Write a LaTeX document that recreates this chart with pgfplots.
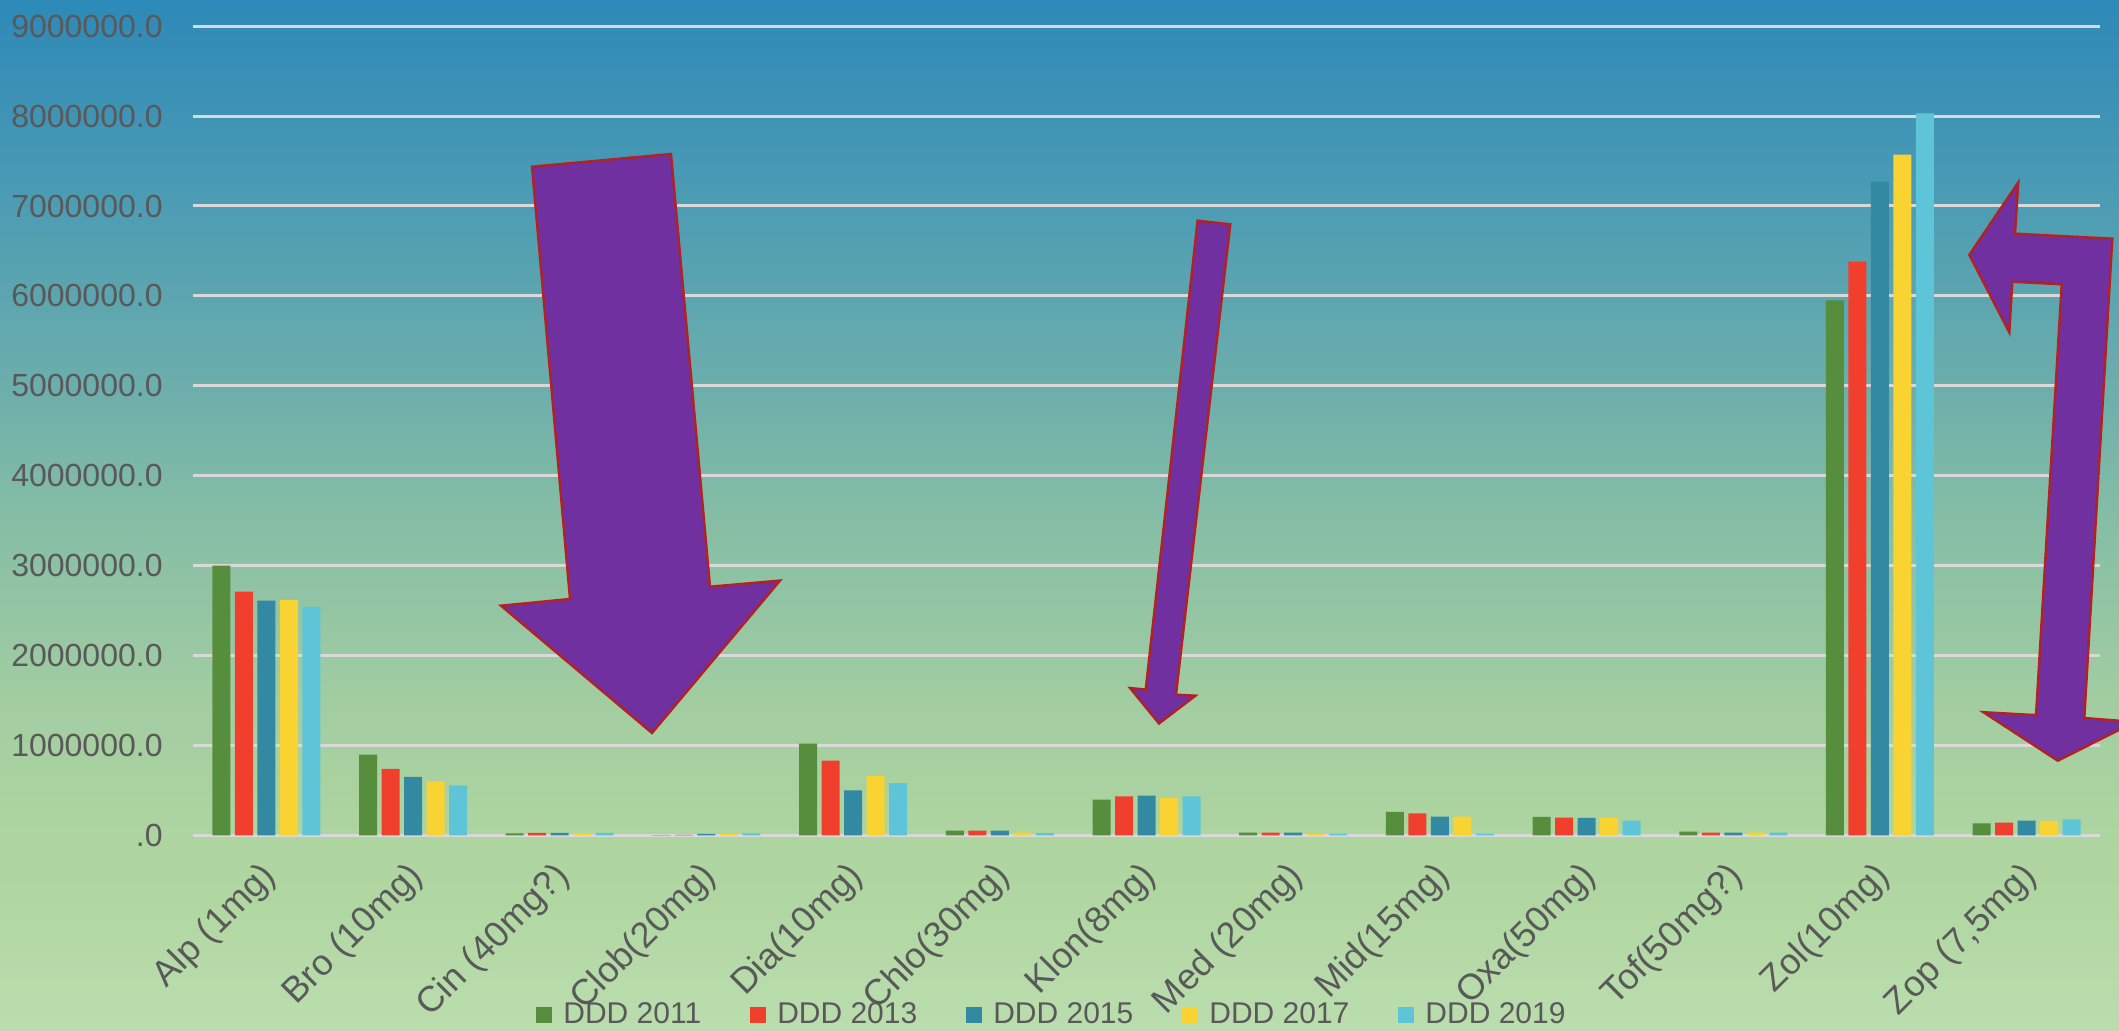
\documentclass[border=0pt]{standalone}
\usepackage{pgfplots}
\pgfplotsset{compat=1.18}
\usepackage{fontspec}
\setmainfont{Liberation Sans}

\definecolor{cA}{RGB}{86,142,61}
\definecolor{cB}{RGB}{240,64,45}
\definecolor{cC}{RGB}{51,136,162}
\definecolor{cD}{RGB}{248,211,49}
\definecolor{cE}{RGB}{94,196,216}
\definecolor{labc}{RGB}{89,89,89}
\definecolor{gridc}{RGB}{217,217,217}
\definecolor{arrowfill}{RGB}{112,48,160}
\definecolor{arrowline}{RGB}{178,34,34}

\definecolor{bg0}{RGB}{187,221,174}
\definecolor{bg1}{RGB}{176,215,162}
\definecolor{bg2}{RGB}{174,213,160}
\definecolor{bg3}{RGB}{162,205,161}
\definecolor{bg4}{RGB}{130,188,166}
\definecolor{bg5}{RGB}{108,174,172}
\definecolor{bg6}{RGB}{76,156,180}
\definecolor{bg7}{RGB}{45,137,184}

\pgfdeclareverticalshading{bgshade}{1059.5pt}{%
  color(0pt)=(bg0); color(65pt)=(bg1); color(98pt)=(bg2);
  color(165pt)=(bg3); color(265pt)=(bg4); color(322pt)=(bg5);
  color(415pt)=(bg6); color(515.5pt)=(bg7)}

\pgfplotsset{sqlegend/.style={legend image code/.code={\fill[##1] (0pt,-4pt) rectangle (8pt,4pt);}}}

\begin{document}
\begin{tikzpicture}
\node[inner sep=0pt, outer sep=0pt, anchor=south west] at (0,0) {\pgfuseshading{bgshade}};

\begin{axis}[
  at={(96.5pt,97.85pt)}, anchor=south west,
  width=953.5pt, height=404.55pt, scale only axis,
  xmin=-0.5, xmax=12.5, ymin=0, ymax=9000000,
  clip=false,
  axis line style={draw=none},
  major tick length=0pt,
  tick style={draw=none},
  scaled y ticks=false,
  ytick={0,1000000,2000000,3000000,4000000,5000000,6000000,7000000,8000000,9000000},
  yticklabels={.0,1000000.0,2000000.0,3000000.0,4000000.0,5000000.0,6000000.0,7000000.0,8000000.0,9000000.0},
  ymajorgrids,
  grid style={color=gridc, line width=1.5pt},
  xtick={0,1,2,3,4,5,6,7,8,9,10,11,12},
  xticklabels={{Alp (1mg)},{Bro (10mg)},{Cin (40mg?)},{Clob(20mg)},{Dia(10mg)},{Chlo(30mg)},{Klon(8mg)},{Med (20mg)},{Mid(15mg)},{Oxa(50mg)},{Tof(50mg?)},{Zol(10mg)},{Zop (7,5mg)}},
  yticklabel style={anchor=east, inner sep=0pt, xshift=-15pt, font=\fontsize{16}{16}\selectfont, text=labc},
  xticklabel style={xshift=-3.8pt, yshift=-11.8pt, rotate=45, anchor=north east, inner sep=0pt, font=\fontsize{18}{18}\selectfont, text=labc},
  ybar, bar width=9pt,
  sqlegend,
  legend columns=5,
  legend style={at={(0.4499,-0.2221)}, anchor=center, draw=none, fill=none,
    font=\fontsize{15}{15}\selectfont, text=labc, inner sep=0pt,
    nodes={inner sep=0pt},
    /tikz/every odd column/.append style={column sep=5.5pt},
    /tikz/every even column/.append style={column sep=24.5pt}},
]
\addplot[fill=cA, draw=none, bar shift=-22.5pt] coordinates {
 (0,3000000) (1,898000) (2,22000) (3,2000) (4,1020000) (5,53000) (6,397000) (7,30000) (8,260000) (9,204000) (10,40000) (11,5950000) (12,133000)};
\addplot[fill=cB, draw=none, bar shift=-11.25pt] coordinates {
 (0,2710000) (1,740000) (2,26000) (3,5000) (4,830000) (5,53000) (6,434000) (7,30000) (8,245000) (9,197000) (10,30000) (11,6380000) (12,141000)};
\addplot[fill=cC, draw=none, bar shift=0pt] coordinates {
 (0,2610000) (1,650000) (2,26000) (3,15000) (4,500000) (5,53000) (6,440000) (7,30000) (8,208000) (9,193000) (10,30000) (11,7270000) (12,163000)};
\addplot[fill=cD, draw=none, bar shift=11.25pt] coordinates {
 (0,2620000) (1,600000) (2,22000) (3,19000) (4,660000) (5,30000) (6,415000) (7,19000) (8,208000) (9,190000) (10,30000) (11,7570000) (12,160000)};
\addplot[fill=cE, draw=none, bar shift=22.5pt] coordinates {
 (0,2540000) (1,556000) (2,26000) (3,22000) (4,580000) (5,23000) (6,434000) (7,15000) (8,15000) (9,163000) (10,30000) (11,8030000) (12,178000)};
\legend{DDD 2011,DDD 2013,DDD 2015,DDD 2017,DDD 2019}
\end{axis}

\begin{scope}[shift={(0pt,515.5pt)}, x=0.5pt, y=-0.5pt]
\clip (0,0) rectangle (2119,1031);
\filldraw[fill=arrowfill, draw=arrowline, line width=1.2pt, line join=miter]
  (532,166.7) -- (671,154) -- (710,586.7) -- (780,580.6) -- (652,733) -- (501,605.7) -- (570,599) -- cycle;
\filldraw[fill=arrowfill, draw=arrowline, line width=1.2pt, line join=miter]
  (1197.6,220.7) -- (1230.3,224.3) -- (1176,694.7) -- (1195.5,695.7) -- (1159,723.5) -- (1130,688) -- (1145.7,689.6) -- cycle;
\filldraw[fill=arrowfill, draw=arrowline, line width=1.2pt, line join=miter]
  (1969.3,254.9) -- (2018.3,182.3) -- (2015,233.7) -- (2112.3,238.7) -- (2084.3,718) -- (2135,722) -- (2057.7,760.7) -- (1983.3,712.2) -- (2036,715.1) -- (2061.7,284.3) -- (2012.3,281.8) -- (2009.3,332.4) -- cycle;
\end{scope}

\pgfresetboundingbox
\path[use as bounding box] (0,0) rectangle (1059.5pt,515.5pt);
\end{tikzpicture}
\end{document}
